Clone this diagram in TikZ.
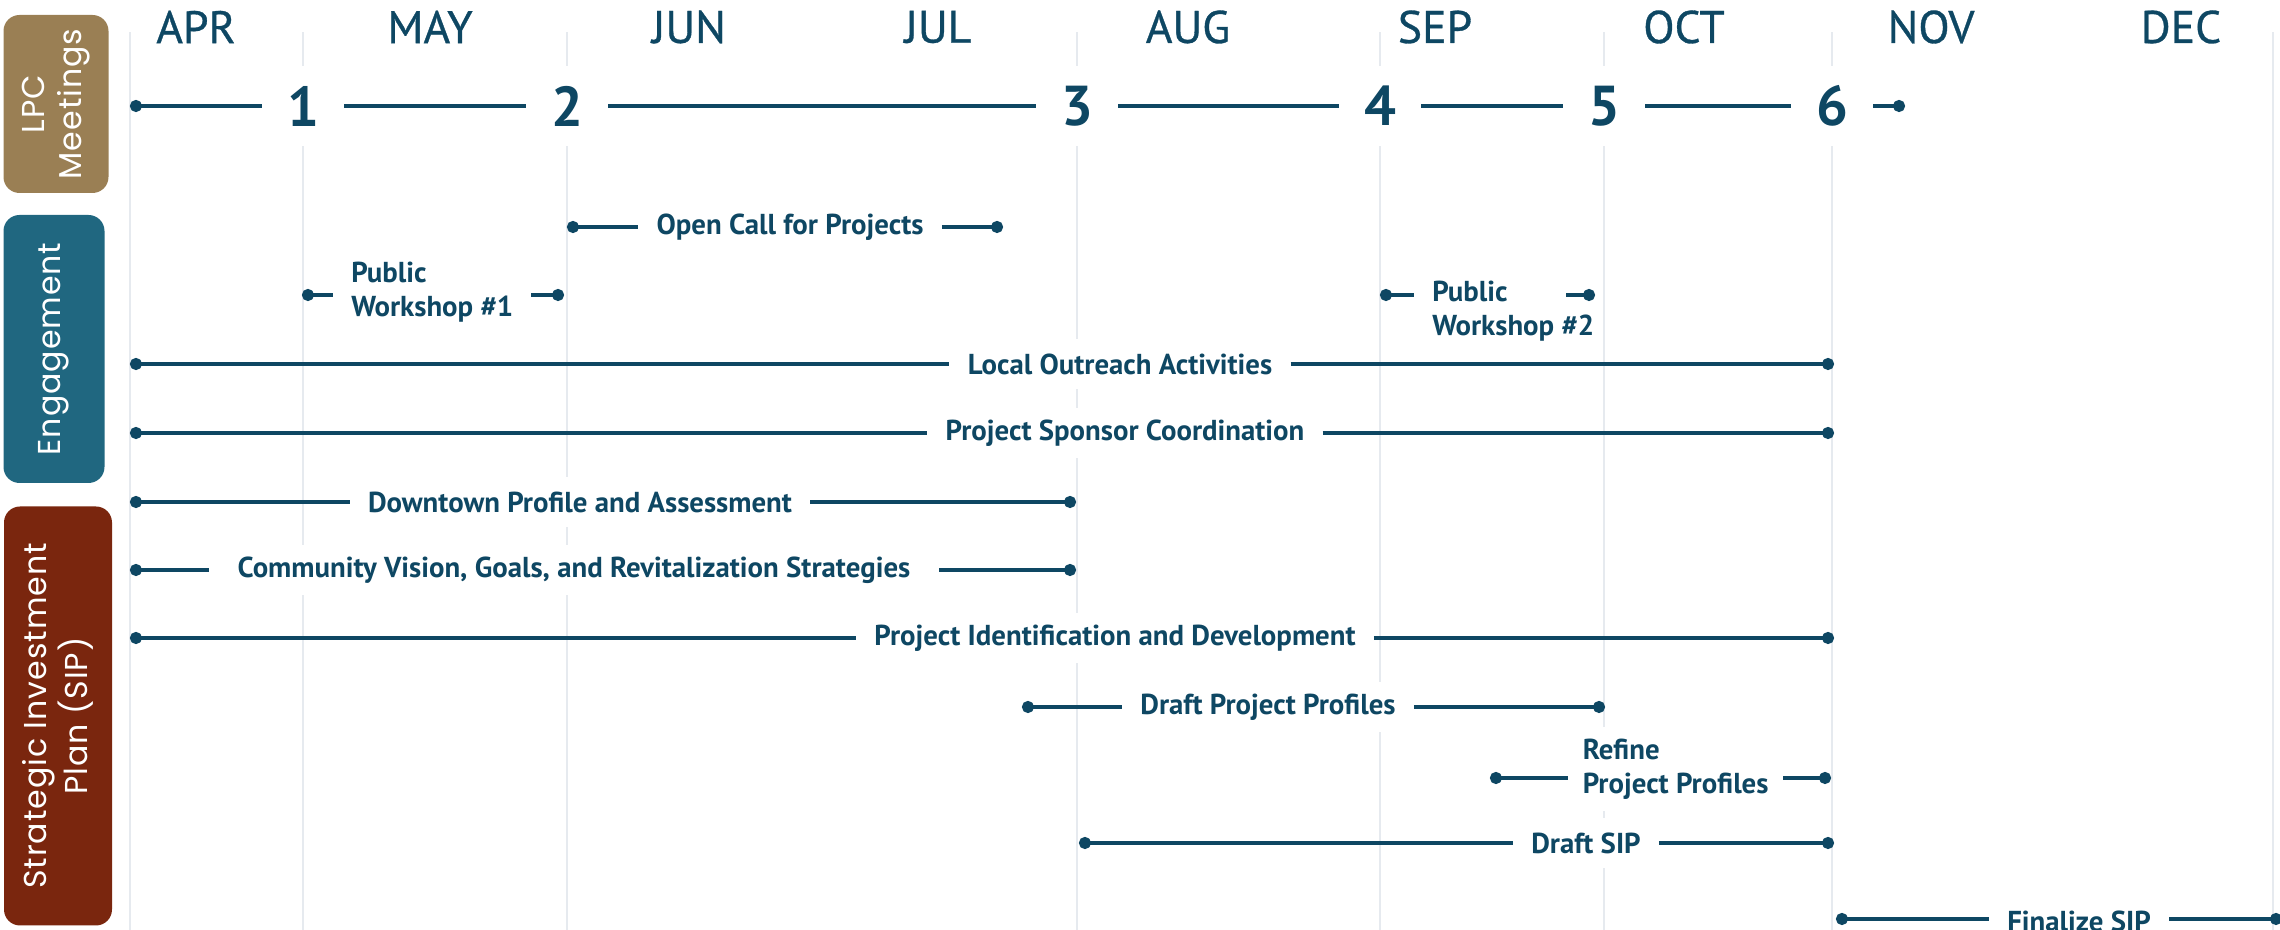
\documentclass[tikz,border=0pt]{standalone}
\usepackage{fontspec}
\setmainfont{PT Sans}
\newfontfamily\monthfont[FakeBold=0.7]{PT Sans}
\newfontfamily\catfont[LetterSpace=3]{Poppins}
\usepackage{tikz}
\usetikzlibrary{arrows.meta,positioning}

\definecolor{navy}{RGB}{14,71,99}
\definecolor{gridgray}{RGB}{230,234,239}
\definecolor{lpcbrown}{RGB}{154,127,84}
\definecolor{engteal}{RGB}{32,103,128}
\definecolor{sipred}{RGB}{122,38,14}

\tikzset{
	month/.style={text=navy, font=\monthfont\fontsize{13}{15}\selectfont},
	mtg/.style={text=navy, fill=white, font=\bfseries\fontsize{16}{18}\selectfont, inner xsep=7pt, minimum height=8mm},
	task/.style={text=navy, fill=white, font=\bfseries\fontsize{8.2}{9.8}\selectfont, inner xsep=5pt, minimum height=5mm},
	tl/.style={navy, line width=1.2pt},
	gridln/.style={gridgray, line width=0.8pt},
	cat/.style={fill=#1, rounded corners=1.6mm, text=white, align=center, rotate=90, font=\catfont\fontsize{9}{10.5}\selectfont},
	ball/.tip={Circle[length=3.4pt]}
}

\begin{document}
\begin{tikzpicture}[x=0.1mm,y=-0.1mm]
			\useasboundingbox (0,0) rectangle (2280,930);
			\foreach \x in {130,303,567,1077,1380,1604,1832,2273}
				\draw[gridln] (\x,32) -- (\x,930);
			\foreach \m/\x in {APR/196,MAY/430,JUN/689,JUL/938,AUG/1188,SEP/1435,OCT/1684,NOV/1931,DEC/2181}
				\node[month] (\m) at (\x,27) {\m};
			\node[cat=lpcbrown, minimum width=17.8mm, minimum height=10.5mm] (lpc) at (56,104) {LPC\\Meetings};
			\node[cat=engteal, minimum width=26.8mm, minimum height=10.1mm] (eng) at (54,349) {Engagement};
			\node[cat=sipred, minimum width=41.9mm, minimum height=10.8mm] (sip) at (58,716) {Strategic Investment\\Plan (SIP)};
			% LPC meetings
			\coordinate (m0) at (130,106);
			\foreach \n/\x in {1/303,2/567,3/1077,4/1380,5/1604,6/1832}
				\node[mtg] (m\n) at (\x,106) {\n};
			\coordinate (m7) at (1905,106);
			\draw[tl,ball-] (m0) -- (m1);
			\foreach \a/\b in {1/2,2/3,3/4,4/5,5/6}
				\draw[tl] (m\a) -- (m\b);
			\draw[tl,-ball] (m6) -- (m7);
			% engagement
			\coordinate (oc1) at (567,227);
			\node[task] (oc) at (790,227) {Open Call for Projects};
			\coordinate (oc2) at (1003,227);
			\draw[tl,ball-] (oc1) -- (oc);
			\draw[tl,-ball] (oc) -- (oc2);
			\coordinate (pw1a) at (302,295);
			\node[task, align=left, anchor=west] (pw1) at (333,292) {Public\\Workshop \#1};
			\coordinate (pw1b) at (564,295);
			\draw[tl,ball-] (pw1a) -- (pw1a -| pw1.west);
			\draw[tl,-ball] (pw1b -| pw1.east) -- (pw1b);
			\coordinate (pw2a) at (1380,295);
			\node[task, fill=none, align=left, anchor=west] (pw2) at (1414,311) {Public\\Workshop \#2};
			\coordinate (pw2c) at (1566,295);
			\coordinate (pw2b) at (1595,295);
			\draw[tl,ball-] (pw2a) -- (pw2a -| pw2.west);
			\draw[tl,-ball] (pw2c) -- (pw2b);
			\coordinate (lo1) at (130,364);
			\node[task] (lo) at (1120,364) {Local Outreach Activities};
			\coordinate (lo2) at (1834,364);
			\draw[tl,ball-] (lo1) -- (lo);
			\draw[tl,-ball] (lo) -- (lo2);
			\coordinate (ps1) at (130,433);
			\node[task] (ps) at (1125,433) {Project Sponsor Coordination};
			\coordinate (ps2) at (1834,433);
			\draw[tl,ball-] (ps1) -- (ps);
			\draw[tl,-ball] (ps) -- (ps2);
			% strategic investment plan
			\coordinate (dp1) at (130,502);
			\node[task] (dp) at (580,502) {Downtown Profile and Assessment};
			\coordinate (dp2) at (1076,502);
			\draw[tl,ball-] (dp1) -- (dp);
			\draw[tl,-ball] (dp) -- (dp2);
			\coordinate (cv1) at (130,570);
			\node[task, inner xsep=8pt] (cv) at (574,570) {Community Vision, Goals, and Revitalization Strategies};
			\coordinate (cv2) at (1076,570);
			\draw[tl,ball-] (cv1) -- (cv);
			\draw[tl,-ball] (cv) -- (cv2);
			\coordinate (pi1) at (130,638);
			\node[task] (pi) at (1115,638) {Project Identification and Development};
			\coordinate (pi2) at (1834,638);
			\draw[tl,ball-] (pi1) -- (pi);
			\draw[tl,-ball] (pi) -- (pi2);
			\coordinate (dpp1) at (1022,707);
			\node[task] (dpp) at (1268,707) {Draft Project Profiles};
			\coordinate (dpp2) at (1605,707);
			\draw[tl,ball-] (dpp1) -- (dpp);
			\draw[tl,-ball] (dpp) -- (dpp2);
			\coordinate (rf1) at (1490,778);
			\node[task, align=left, anchor=west, inner xsep=4pt] (rpp) at (1568,769) {Refine\\Project Profiles};
			\coordinate (rf2) at (1831,778);
			\draw[tl,ball-] (rf1) -- (rf1 -| rpp.west);
			\draw[tl,-ball] (rpp.east |- rf2) -- (rf2);
			\coordinate (ds1) at (1079,843);
			\node[task] (ds) at (1586,843) {Draft SIP};
			\coordinate (ds2) at (1834,843);
			\draw[tl,ball-] (ds1) -- (ds);
			\draw[tl,-ball] (ds) -- (ds2);
			\coordinate (fs1) at (1836,919);
			\node[task] (fs) at (2079,921) {Finalize SIP};
			\coordinate (fs2) at (2282,919);
			\draw[tl,ball-] (fs1) -- (fs1 -| fs.west);
			\draw[tl,-ball] (fs.east |- fs2) -- (fs2);
		\end{tikzpicture}
\end{document}
